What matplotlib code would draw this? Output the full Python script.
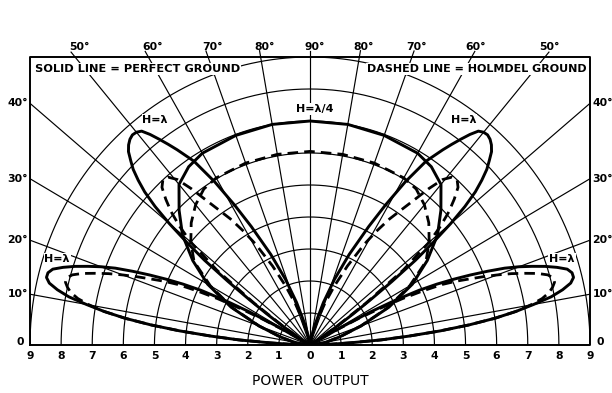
import numpy as np
import matplotlib
matplotlib.use("Agg")
import matplotlib.pyplot as plt

# Elevation angle (degrees above the horizon) and relative power output.
# Each pattern is symmetric about the zenith; one half is listed.

# H = lambda/4, perfect ground (solid) and Holmdel ground (dashed)
elev_q = [0, 5, 10, 15, 20, 25, 30, 35, 40, 45, 50, 55, 60, 70, 80, 90]
power_q_perfect = [0, 0.15, 0.55, 1.0, 1.75, 2.8, 3.8, 4.6, 5.35, 5.95, 6.55, 6.8, 6.92, 6.97, 7.0, 7.0]
power_q_holmdel = [0, 0.15, 0.55, 1.0, 1.75, 2.75, 3.7, 4.55, 5.0, 5.4, 5.72, 5.95, 6.03, 6.05, 6.05, 6.05]

# H = lambda, low-angle lobe
elev_low = list(range(0, 31))
power_low_perfect = [0, 0.25, 0.65, 1.3, 2.3, 3.2, 4.2, 5.15, 6.0, 6.7, 7.3, 7.9, 8.3, 8.6,
                     8.73, 8.72, 8.6, 8.3, 7.95, 7.55, 7.15, 6.7, 6.15, 5.6, 5.05, 4.5, 3.9,
                     3.1, 2.2, 1.1, 0]
power_low_holmdel = [0, 0.25, 0.65, 1.3, 2.3, 3.2, 4.2, 5.15, 6.0, 6.7, 7.2, 7.6, 7.85, 8.0,
                     8.1, 8.1, 7.95, 7.65, 7.25, 6.85, 6.4, 5.95, 5.5, 5.1, 4.65, 4.0, 3.3,
                     2.5, 1.7, 0.85, 0]

# H = lambda, high-angle lobe, perfect ground
elev_high_perfect = [30, 32, 34, 35, 36, 37, 38, 39, 40, 41, 42, 43, 44, 45, 46, 47, 48, 49,
                     50, 51, 52, 53, 54, 55, 57, 59, 61, 63, 66, 69, 72, 76, 80, 85, 90]
power_high_perfect = [0, 0.4, 1.1, 1.7, 2.4, 3.3, 4.3, 5.1, 5.9, 6.6, 7.15, 7.55, 7.9, 8.15,
                      8.4, 8.55, 8.65, 8.7, 8.68, 8.6, 8.35, 8.05, 7.75, 7.45, 6.85, 5.95,
                      5.0, 4.15, 3.1, 2.2, 1.4, 0.65, 0.22, 0.03, 0]

# H = lambda, high-angle lobe, Holmdel ground
elev_high_holmdel = [30, 32, 34, 36, 38, 40, 41.5, 43, 44.5, 46, 47.5, 49, 50.5, 52, 53.5,
                     55, 57, 59, 61, 64, 67, 70, 73, 77, 82, 90]
power_high_holmdel = [0, 0.35, 1.0, 2.2, 3.8, 5.0, 5.6, 6.1, 6.5, 6.85, 7.0, 6.95, 6.7, 6.2,
                      5.65, 5.2, 4.7, 4.15, 3.6, 2.75, 2.0, 1.35, 0.8, 0.35, 0.08, 0]

power_ticks = [9, 8, 7, 6, 5, 4, 3, 2, 1, 0, 1, 2, 3, 4, 5, 6, 7, 8, 9]
top_angles = [50, 60, 70, 80, 90, 80, 70, 60, 50]
side_angles = [40, 30, 20, 10]

R = 9.0
INK = "black"
FONT = "DejaVu Sans"

fig = plt.figure(figsize=(6.12, 3.93), dpi=100)
ax = fig.add_axes([30 / 612, 48 / 393, 560 / 612, 288 / 393])
ax.set_xlim(-R, R)
ax.set_ylim(0, R)
ax.axis("off")

# concentric power circles
t = np.linspace(0, np.pi, 500)
for r in range(1, 10):
    ax.plot(r * np.cos(t), r * np.sin(t), color=INK, lw=0.85, zorder=1)

# radial elevation lines every 10 degrees, out to the frame
for a in range(10, 180, 10):
    th = np.radians(a)
    c, s = np.cos(th), np.sin(th)
    reach = min(R / abs(c) if abs(c) > 1e-9 else 1e9, R / s)
    ax.plot([0, reach * c], [0, reach * s], color=INK, lw=0.85, zorder=1,
            solid_capstyle="butt")
    if 45 < a < 135:
        # short tick above the frame toward the angle label
        ax.plot([reach * c, (reach + 0.2) * c], [reach * s, (reach + 0.2) * s],
                color=INK, lw=0.85, clip_on=False, zorder=1)

# frame
ax.plot([-R, R, R, -R, -R], [0, 0, R, R, 0], color=INK, lw=1.4, clip_on=False, zorder=3)


def half_to_xy(elev, power, side):
    e = np.radians(np.asarray(elev, float))
    p = np.asarray(power, float)
    return side * p * np.cos(e), p * np.sin(e)


def draw_full(elev, power, **kw):
    # right half then mirrored left half, as one continuous curve
    xr, yr = half_to_xy(elev, power, 1)
    xl, yl = half_to_xy(elev, power, -1)
    ax.plot(np.r_[xr, xl[::-1]], np.r_[yr, yl[::-1]], **kw)


def draw_lobes(elev, power, **kw):
    for side in (1, -1):
        x, y = half_to_xy(elev, power, side)
        ax.plot(x, y, **kw)


solid = dict(color=INK, lw=2.1, zorder=4, solid_joinstyle="round", solid_capstyle="round")
dashed = dict(color=INK, lw=2.0, zorder=4, linestyle=(0, (3.8, 2.2)))

draw_full(elev_q, power_q_perfect, **solid)
draw_full(elev_q, power_q_holmdel, **dashed)
draw_lobes(elev_low, power_low_perfect, **solid)
draw_lobes(elev_low, power_low_holmdel, **dashed)
draw_lobes(elev_high_perfect, power_high_perfect, **solid)
draw_lobes(elev_high_holmdel, power_high_holmdel, **dashed)

lab_kw = dict(fontsize=7.8, fontweight="bold", family=FONT, clip_on=False)

# angle labels along the top edge
for a, lab in zip(range(50, 140, 10), top_angles):
    x = R / np.tan(np.radians(a))
    ax.text(x + 0.14, R + 0.3, f"{lab}°", ha="center", va="center", **lab_kw)

# angle labels down both sides
for a in side_angles:
    y = R * np.tan(np.radians(a))
    ax.text(-R - 0.06, y, f"{a}°", ha="right", va="center", **lab_kw)
    ax.text(R + 0.08, y, f"{a}°", ha="left", va="center", **lab_kw)
ax.text(-R - 0.2, 0.1, "0", ha="right", va="center", **lab_kw)
ax.text(R + 0.2, 0.1, "0", ha="left", va="center", **lab_kw)

# power scale beneath the baseline
for i, v in enumerate(power_ticks):
    ax.text(i - R, -0.34, str(v), ha="center", va="center", **lab_kw)
ax.text(0, -1.13, "POWER  OUTPUT", ha="center", va="center", fontsize=10,
        family=FONT, clip_on=False)

box = dict(facecolor="white", edgecolor="none", pad=0.6)
ax.text(-8.85, 8.62, "SOLID LINE = PERFECT GROUND", ha="left", va="center",
        fontsize=8.2, fontweight="bold", family=FONT, bbox=box, zorder=5)
ax.text(8.88, 8.62, "DASHED LINE = HOLMDEL GROUND", ha="right", va="center",
        fontsize=8.0, fontweight="bold", family=FONT, bbox=box, zorder=5)

hkw = dict(ha="center", va="center", fontsize=8, fontweight="bold", family=FONT,
           bbox=box, zorder=5)
ax.text(0.15, 7.38, "H=λ/4", **hkw)
ax.text(-4.98, 7.03, "H=λ", **hkw)
ax.text(4.93, 7.03, "H=λ", **hkw)
ax.text(-8.13, 2.68, "H=λ", **hkw)
ax.text(8.1, 2.68, "H=λ", **hkw)

fig.savefig("out.png", dpi=100, facecolor="white")
